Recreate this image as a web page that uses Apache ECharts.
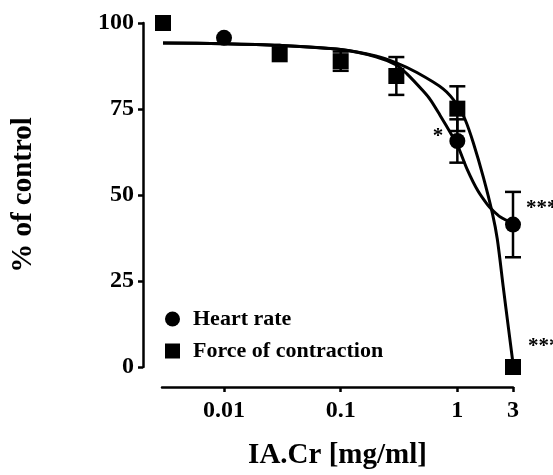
<!DOCTYPE html>
<html>
<head>
<meta charset="utf-8">
<script src="https://cdn.jsdelivr.net/npm/echarts@6/dist/echarts.min.js"></script>
<style>
  html, body { margin: 0; padding: 0; background: #fff; }
  #chart { width: 553px; height: 475px; }
</style>
</head>
<body>
<div id="chart"></div>
<script>
const hrX = [0.01, 1, 3];
const hrY = [95.7, 65.7, 41.4];
const hrErr = [0, 6.3, 9.5];
const hrSig = ['', '*', '***'];

const fcX = [0.003, 0.03, 0.1, 0.3, 1, 3];
const fcY = [100, 90.9, 88.9, 84.6, 75.1, 0];
const fcErr = [0, 0, 2.8, 5.5, 6.5, 0];
const fcSig = ['', '', '', '', '', '***'];

// fitted curves
const hrFitX = [0.003, 0.01, 0.03, 0.1, 0.2, 0.3, 0.37, 0.51, 0.59, 0.71, 0.9, 1.0, 1.22, 1.5, 1.81, 2.0, 2.34, 3.0];
const hrFitY = [94.2, 94.0, 93.5, 92.3, 90.2, 87.8, 85.2, 80.2, 77.6, 73.2, 67.3, 64.6, 57.3, 51.2, 47.2, 45.6, 43.6, 41.7];

const fcFitX = [0.003, 0.01, 0.03, 0.1, 0.2, 0.3, 0.45, 0.76, 1.0, 1.17, 1.37, 1.67, 2.0, 2.2, 2.48, 2.75, 3.0];
const fcFitY = [94.2, 94.0, 93.5, 92.3, 90.4, 88.4, 85.6, 80.8, 76.2, 71.8, 65.2, 55.2, 44.6, 37.2, 23.0, 11.0, 1.0];

const xTicks = [0.01, 0.1, 1, 3];
const xTickLabels = ['0.01', '0.1', '1', '3'];
const yTicks = [0, 25, 50, 75, 100];

const font = 'Liberation Serif';
const zip = (xs, ys) => xs.map((x, i) => [x, ys[i]]);

const chart = echarts.init(document.getElementById('chart'));

const errSeries = (xs, ys, es) => ({
    type: 'custom',
    silent: true,
    data: xs.map((x, i) => [x, ys[i], es[i]]),
    renderItem: (params, api) => {
        const e = api.value(2);
        if (!e) return null;
        const top = api.coord([api.value(0), api.value(1) + e]);
        const bot = api.coord([api.value(0), api.value(1) - e]);
        const st = { stroke: '#000', lineWidth: 2.5 };
        return {
            type: 'group',
            children: [
                { type: 'line', shape: { x1: top[0], y1: top[1], x2: bot[0], y2: bot[1] }, style: st },
                { type: 'line', shape: { x1: top[0] - 8, y1: top[1], x2: top[0] + 8, y2: top[1] }, style: st },
                { type: 'line', shape: { x1: bot[0] - 8, y1: bot[1], x2: bot[0] + 8, y2: bot[1] }, style: st }
            ]
        };
    }
});

const sigLabel = (txt, pos) => txt ? {
    show: true,
    formatter: txt,
    position: pos.position,
    offset: pos.offset,
    color: '#000',
    fontFamily: font,
    fontWeight: 'bold',
    fontSize: 21
} : { show: false };

const option = {
    backgroundColor: '#fff',
    animation: false,
    grid: { left: 162, right: 40, top: 23, bottom: 102 },
    legend: {
        orient: 'vertical',
        left: 160,
        top: 303,
        itemWidth: 15,
        itemHeight: 15,
        itemGap: 10,
        textStyle: { fontFamily: font, fontWeight: 'bold', fontSize: 22, color: '#000', padding: [0, 0, 0, 8] },
        data: [
            { name: 'Heart rate', icon: 'circle' },
            { name: 'Force of contraction', icon: 'rect' }
        ]
    },
    xAxis: {
        type: 'log',
        logBase: 10,
        min: 0.00294,
        max: 3,
        offset: 20,
        name: 'IA.Cr [mg/ml]',
        nameLocation: 'middle',
        nameGap: 54,
        nameTextStyle: { fontFamily: font, fontWeight: 'bold', fontSize: 29, color: '#000' },
        axisLine: { onZero: false, lineStyle: { color: '#000', width: 2.5 } },
        axisTick: { customValues: xTicks, length: 5, lineStyle: { color: '#000', width: 2.5 } },
        axisLabel: {
            customValues: xTicks,
            margin: 12,
            color: '#000',
            fontFamily: font,
            fontWeight: 'bold',
            fontSize: 24,
            formatter: v => {
                let best = 0;
                xTicks.forEach((t, i) => { if (Math.abs(Math.log10(t) - Math.log10(v)) < Math.abs(Math.log10(xTicks[best]) - Math.log10(v))) best = i; });
                return xTickLabels[best];
            }
        },
        splitLine: { show: false },
        minorTick: { show: false }
    },
    yAxis: {
        type: 'value',
        min: 0,
        max: 100,
        interval: 25,
        offset: 19,
        name: '% of control',
        nameLocation: 'middle',
        nameGap: 105,
        nameTextStyle: { fontFamily: font, fontWeight: 'bold', fontSize: 29, color: '#000' },
        axisLine: { show: true, onZero: false, lineStyle: { color: '#000', width: 2.5 } },
        axisTick: { show: true, length: 5, lineStyle: { color: '#000', width: 2.5 } },
        axisLabel: {
            margin: 9,
            color: '#000',
            fontFamily: font,
            fontWeight: 'bold',
            fontSize: 24,
            formatter: v => (yTicks.includes(v) ? String(v) : '')
        },
        splitLine: { show: false }
    },
    series: [
        {
            name: 'HR fit',
            type: 'line',
            data: zip(hrFitX, hrFitY),
            smooth: 0.3,
            symbol: 'none',
            lineStyle: { color: '#000', width: 3 },
            silent: true
        },
        {
            name: 'FC fit',
            type: 'line',
            data: zip(fcFitX, fcFitY),
            smooth: 0.3,
            symbol: 'none',
            lineStyle: { color: '#000', width: 3 },
            silent: true
        },
        errSeries(hrX, hrY, hrErr),
        errSeries(fcX, fcY, fcErr),
        {
            name: 'Heart rate',
            type: 'scatter',
            symbol: 'circle',
            symbolSize: 16,
            itemStyle: { color: '#000', opacity: 1 },
            data: hrX.map((x, i) => ({
                value: [x, hrY[i]],
                label: sigLabel(hrSig[i], i === 1
                    ? { position: 'left', offset: [-1, -4] }
                    : { position: 'right', offset: [0, -16] })
            }))
        },
        {
            name: 'Force of contraction',
            type: 'scatter',
            symbol: 'rect',
            symbolSize: 16,
            itemStyle: { color: '#000', opacity: 1 },
            data: fcX.map((x, i) => ({
                value: [x, fcY[i]],
                label: sigLabel(fcSig[i], { position: 'right', offset: [2, -20] })
            }))
        }
    ]
};

chart.setOption(option);
</script>
</body>
</html>
